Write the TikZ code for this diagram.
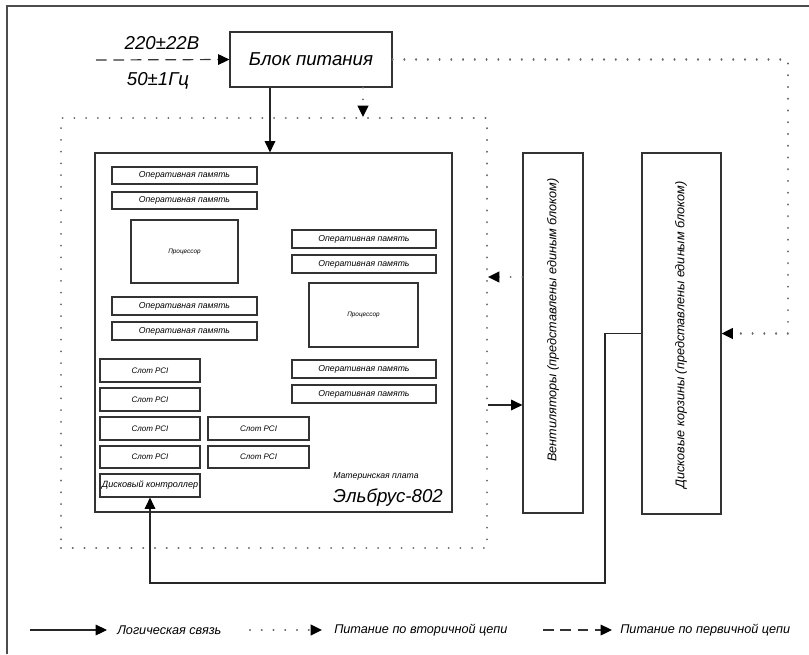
\documentclass[tikz,border=0pt]{standalone}
\usepackage{fontspec}
\setmainfont{Liberation Sans}
\usetikzlibrary{arrows.meta,calc}
\newcommand{\fsz}[1]{\fontsize{#1}{#1}\selectfont\itshape}
% \mybox{name}{x1}{y1}{x2}{y2}{style}{text}
\newcommand{\mybox}[7]{\node[#6, minimum width={(#4-#2)*0.75pt}, minimum height={(#5-#3)*0.75pt}] (#1) at ({(#2+#4)/2},{(#3+#5)/2}) {#7};}
\begin{document}
\begin{tikzpicture}[x=0.75pt,y=-0.75pt,
  box/.style={draw=black!80, line width=0.9pt, inner sep=0pt, fill=white},
  ramtxt/.style={font=\fsz{6.5pt}},
  cputxt/.style={font=\fsz{4.8pt}},
  slottxt/.style={font=\fsz{6pt}},
  bigtxt/.style={font=\fsz{14pt}},
  vtxt/.style={font=\fsz{9.5pt}},
  legtxt/.style={font=\fsz{9.5pt}, anchor=west, inner sep=0pt},
  tip/.style={-{Triangle[length=8.5pt,width=8pt,color=black]}},
  logic/.style={tip, draw=black!85, line width=0.8pt},
  secondary/.style={tip, draw=black!60, line width=1.6pt, dash pattern=on 0.01pt off 8.8pt, line cap=round},
  primary/.style={tip, draw=black!80, line width=0.9pt, dash pattern=on 8pt off 5pt},
  pwrbox/.style={draw=black!60, line width=1.6pt, dash pattern=on 0.01pt off 8.8pt, line cap=round, inner sep=0pt}
]
\useasboundingbox (0,0) rectangle (809,654);
% frame
\draw[black!70, line width=0.9pt] (7,654) -- (7,6) -- (809,6);

% secondary power area
\mybox{pwr}{61}{118}{487}{548}{pwrbox}{}

% power supply
\mybox{psu}{230}{32}{392}{87}{box, font=\fsz{14pt}}{Блок питания}
\coordinate (in) at (96,60);
\node[bigtxt, inner sep=0pt] (volt) at (162,43) {220±22В};
\node[bigtxt, inner sep=0pt] (freq) at (158,81) {50±1Гц};

% motherboard
\mybox{mb}{95}{153}{452}{512}{box}{}
\mybox{ram1}{112}{167}{257}{184}{box, ramtxt}{Оперативная память}
\mybox{ram2}{112}{192}{257}{209}{box, ramtxt}{Оперативная память}
\mybox{cpu1}{131}{220}{238}{283}{box, cputxt}{Процессор}
\mybox{ram3}{112}{297}{257}{315}{box, ramtxt}{Оперативная память}
\mybox{ram4}{112}{322}{257}{340}{box, ramtxt}{Оперативная память}
\mybox{ram5}{292}{230}{436}{248}{box, ramtxt}{Оперативная память}
\mybox{ram6}{292}{255}{436}{273}{box, ramtxt}{Оперативная память}
\mybox{cpu2}{309}{283}{418}{347}{box, cputxt}{Процессор}
\mybox{ram7}{292}{360}{436}{378}{box, ramtxt}{Оперативная память}
\mybox{ram8}{292}{385}{436}{403}{box, ramtxt}{Оперативная память}
\mybox{slot1}{100}{359}{200}{382}{box, slottxt}{Слот PCI}
\mybox{slot2}{100}{388}{200}{411}{box, slottxt}{Слот PCI}
\mybox{slot3}{100}{417}{200}{440}{box, slottxt}{Слот PCI}
\mybox{slot5}{208}{417}{309}{440}{box, slottxt}{Слот PCI}
\mybox{slot4}{100}{446}{200}{468}{box, slottxt}{Слот PCI}
\mybox{slot6}{208}{446}{309}{468}{box, slottxt}{Слот PCI}
\mybox{dc}{100}{474}{200}{497}{box, font=\fsz{6.8pt}}{Дисковый контроллер}
\node[font=\fsz{6.5pt}, inner sep=0pt] (mblabel) at (376,476) {Материнская плата};
\node[bigtxt, inner sep=0pt] (mbname) at (388,498) {Эльбрус-802};

% fans and disk baskets
\mybox{fan}{523}{153}{583}{513}{box}{}
\node[vtxt, rotate=90, inner sep=0pt] (fantxt) at (553,320) {Вентиляторы (представлены единым блоком)};
\mybox{bask}{642}{153}{721}{514}{box}{}
\node[vtxt, rotate=90, inner sep=0pt] (basktxt) at (681,335) {Дисковые корзины (представлены единым блоком)};

% connectors
\draw[primary] (in) -- (psu.west);
\coordinate (x270) at (270,0);
\coordinate (x363) at (363,0);
\coordinate (x788) at (788,0);
\coordinate (y277) at (0,277);
\coordinate (y405) at (0,405);
\coordinate (k1) at (605,583);
\draw[logic] (psu.south -| x270) -- (mb.north -| x270);
\draw[secondary] (psu.south -| x363) -- (pwr.north -| x363);
\draw[secondary] (psu.east) -- (psu.east -| x788) |- (bask.east);
\draw[secondary] (fan.west |- y277) -- (pwr.east |- y277);
\draw[logic] (pwr.east |- y405) -- (fan.west |- y405);
\draw[logic] (bask.west) -| (k1) -| (dc.south);

% legend
\coordinate (l1a) at (30,630); \coordinate (l1b) at (107,630);
\coordinate (l2a) at (250,630); \coordinate (l2b) at (322,630);
\coordinate (l3a) at (543,630); \coordinate (l3b) at (612,630);
\draw[logic] (l1a) -- (l1b);
\node[legtxt] (leg1) at (117,630) {Логическая связь};
\draw[secondary] (l2a) -- (l2b);
\node[legtxt] (leg2) at (334,630) {Питание по вторичной цепи};
\draw[primary] (l3a) -- (l3b);
\node[legtxt] (leg3) at (620,630) {Питание по первичной цепи};
\end{tikzpicture}
\end{document}
